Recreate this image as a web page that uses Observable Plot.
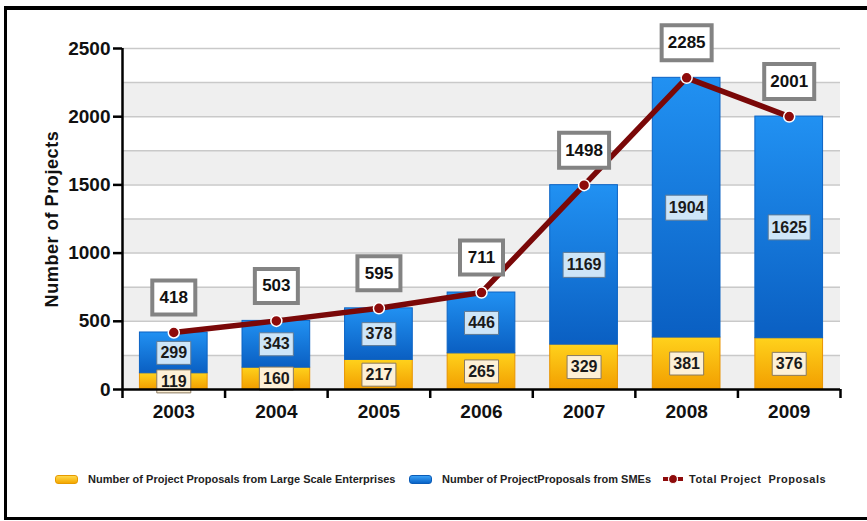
<!DOCTYPE html>
<html>
<head>
<meta charset="utf-8">
<script src="https://cdn.jsdelivr.net/npm/d3@7"></script>
<script src="https://cdn.jsdelivr.net/npm/@observablehq/plot@0.6"></script>
<style>
  html, body { margin: 0; padding: 0; background: #fff; overflow: hidden; }
  #page { position: relative; width: 867px; height: 521px; }
  #frame { position: absolute; left: 4px; top: 6px; width: 900px; height: 514px; box-sizing: border-box;
           border-top: 4px solid #000; border-left: 3px solid #000; border-bottom: 3px solid #000; pointer-events: none; }
  #chart { position: absolute; left: 0; top: 0; }
  .ylabel text { letter-spacing: 0.6px; }
  .legend-item { position: absolute; top: 472px; height: 14px; display: flex; align-items: center;
                 font-family: "Liberation Sans", Arial, sans-serif;
                 font-weight: bold; font-size: 11px; color: #222; white-space: pre; }
  .sw { display: inline-block; width: 21px; height: 7px; border-radius: 3px; margin-right: 10px; }
  .sw-orange { background: linear-gradient(#ffd84a, #f4a800); border: 1px solid #e69a00; }
  .sw-blue { background: linear-gradient(#3aa0f5, #0a64c8); border: 1px solid #0a5cb8; }
</style>
</head>
<body>
<div id="page">
  <div id="chart"></div>
  <div id="legend"></div>
  <div id="frame"></div>
</div>
<script>
// ---- data ----
const years = [2003, 2004, 2005, 2006, 2007, 2008, 2009];
const largeScale = [119, 160, 217, 265, 329, 381, 376];
const smes = [299, 343, 378, 446, 1169, 1904, 1625];
const totals = [418, 503, 595, 711, 1498, 2285, 2001];
const yTicks = [0, 500, 1000, 1500, 2000, 2500];
const yLabel = "Number of Projects";
const seriesNames = [
  "Number of Project Proposals from Large Scale Enterprises",
  "Number of ProjectProposals from SMEs",
  "Total Project  Proposals"
];

const data = years.map((year, i) => ({year, large: largeScale[i], sme: smes[i], total: totals[i]}));
const gridLines = d3.range(yTicks[1] / 2, yTicks[yTicks.length - 1] + 1, yTicks[1] / 2);
const bands = yTicks.slice(0, -1).map(v => ({y1: v, y2: v + yTicks[1] / 2}));
const boundaries = [...years.map(y => y - 0.5), years[years.length - 1] + 0.5];

function boxSymbol(w, h) {
  return {draw(ctx) { ctx.rect(-w / 2, -h / 2, w, h); }};
}

function defs() {
  const ns = "http://www.w3.org/2000/svg";
  const d = document.createElementNS(ns, "defs");
  d.innerHTML = `
    <linearGradient id="gradBlue" x1="0" y1="0" x2="0" y2="1">
      <stop offset="0" stop-color="#2191f2"/>
      <stop offset="1" stop-color="#0a5fc2"/>
    </linearGradient>
    <linearGradient id="gradOrange" x1="0" y1="0" x2="0" y2="1">
      <stop offset="0" stop-color="#ffd21c"/>
      <stop offset="1" stop-color="#f29e00"/>
    </linearGradient>`;
  return d;
}

const halfBar = 0.33;

const chart = Plot.plot({
  width: 867,
  height: 440,
  marginLeft: 122,
  marginRight: 27,
  marginTop: 48,
  marginBottom: 51,
  style: {fontFamily: "'Liberation Sans', Arial, sans-serif", background: "transparent", color: "#111"},
  x: {type: "linear", domain: [years[0] - 0.5, years[years.length - 1] + 0.5]},
  y: {domain: [0, 2500]},
  marks: [
    defs,
    Plot.rect(bands, {y1: "y1", y2: "y2", fill: "#efefef"}),
    Plot.ruleY(gridLines, {stroke: "#c9c9c9", strokeWidth: 1.5}),
    Plot.rect(data, {x1: d => d.year - halfBar, x2: d => d.year + halfBar, y1: 0, y2: "large",
      fill: "url(#gradOrange)", stroke: "#e89400", strokeWidth: 1}),
    Plot.rect(data, {x1: d => d.year - halfBar, x2: d => d.year + halfBar, y1: "large", y2: "total",
      fill: "url(#gradBlue)", stroke: "#0b63c4", strokeWidth: 1}),
    // inner value boxes
    Plot.dot(data.filter(d => String(d.large).length === 3), {x: "year", y: d => d.large / 2,
      symbol: boxSymbol(34, 23), r: 10, fill: "#fdf0d6", stroke: "#8a7a60", strokeWidth: 1}),
    Plot.dot(data.filter(d => String(d.sme).length === 3), {x: "year", y: d => d.large + d.sme / 2,
      symbol: boxSymbol(34, 23), r: 10, fill: "#cde5f8", stroke: "#5f7a95", strokeWidth: 1}),
    Plot.dot(data.filter(d => String(d.sme).length === 4), {x: "year", y: d => d.large + d.sme / 2,
      symbol: boxSymbol(42, 25), r: 10, fill: "#cde5f8", stroke: "#5f7a95", strokeWidth: 1}),
    Plot.text(data, {x: "year", y: d => d.large / 2, text: d => String(d.large),
      fontSize: 16, fontWeight: "bold", fill: "#1a1a1a"}),
    Plot.text(data, {x: "year", y: d => d.large + d.sme / 2, text: d => String(d.sme),
      fontSize: 16, fontWeight: "bold", fill: "#1a1a1a"}),
    // total line
    Plot.line(data, {x: "year", y: "total", stroke: "#7a0808", strokeWidth: 5.5}),
    Plot.dot(data, {x: "year", y: "total", r: 5.5, fill: "#8e0b0b", stroke: "#fff", strokeWidth: 1.5}),
    // total boxes
    Plot.dot(data.filter(d => String(d.total).length === 3), {x: "year", y: "total", dy: -35,
      symbol: boxSymbol(43, 34), r: 10, fill: "#fff", stroke: "#838383", strokeWidth: 4}),
    Plot.dot(data.filter(d => String(d.total).length === 4), {x: "year", y: "total", dy: -35,
      symbol: boxSymbol(50, 35), r: 10, fill: "#fff", stroke: "#838383", strokeWidth: 4}),
    Plot.text(data, {x: "year", y: "total", dy: -35, text: d => String(d.total),
      fontSize: 17, fontWeight: "bold", fill: "#111"}),
    // axes
    Plot.ruleY([0], {stroke: "#000", strokeWidth: 2.5}),
    Plot.ruleX([years[0] - 0.5], {y1: 0, y2: 2500, stroke: "#000", strokeWidth: 2.5}),
    Plot.axisY({ticks: yTicks, tickSize: 9, tickPadding: 3, strokeWidth: 2.5, stroke: "#000",
      tickFormat: d => String(d), fontSize: 19, fontWeight: "bold", fill: "#111", label: null}),
    Plot.axisX({ticks: boundaries, tickSize: 9, strokeWidth: 2.5, stroke: "#000", tickFormat: () => "", label: null}),
    Plot.axisX({ticks: years, tickSize: 0, tickPadding: 15, tickFormat: d => String(d),
      fontSize: 19, fontWeight: "bold", fill: "#111", label: null}),
    Plot.text([yLabel], {frameAnchor: "left", textAnchor: "middle", rotate: -90, dx: -70, text: d => d,
      fontSize: 18, fontWeight: "bold", fill: "#111", className: "ylabel"})
  ]
});
document.getElementById("chart").appendChild(chart);

// legend
const legend = document.getElementById("legend");
const lefts = [55, 409, 662];
seriesNames.forEach((name, i) => {
  const item = document.createElement("div");
  item.className = "legend-item";
  item.style.left = lefts[i] + "px";
  let sw;
  if (i === 0) { sw = `<span class="sw sw-orange"></span>`; }
  else if (i === 1) { sw = `<span class="sw sw-blue"></span>`; }
  else {
    sw = `<svg width="22" height="12" style="margin-right:5px"><line x1="1" y1="6" x2="21" y2="6" stroke="#8e0b0b" stroke-width="4"/><circle cx="11" cy="6" r="4.5" fill="#8e0b0b" stroke="#fff" stroke-width="1.2"/></svg>`;
  }
  const ls = i === 2 ? "letter-spacing:0.5px;" : "";
  item.innerHTML = sw + `<span style="${ls}">${name}</span>`;
  legend.appendChild(item);
});
</script>
</body>
</html>
